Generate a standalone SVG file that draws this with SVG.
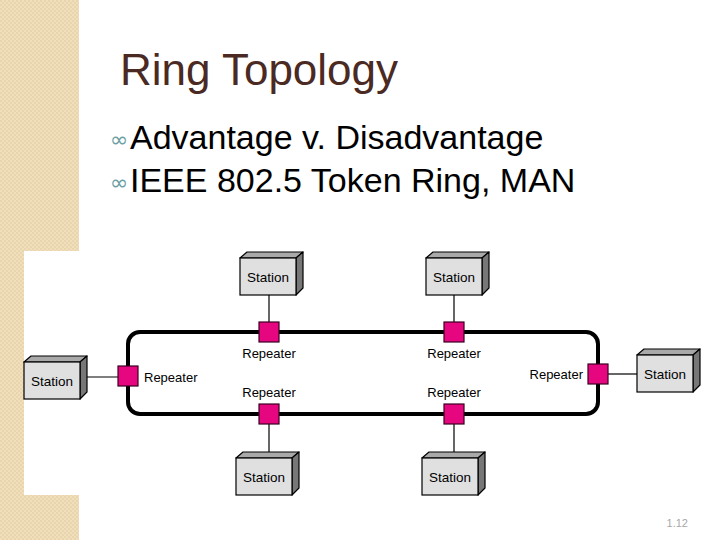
<svg xmlns="http://www.w3.org/2000/svg" width="720" height="540" viewBox="0 0 720 540">
<defs>
<pattern id="tex" width="4" height="4" patternUnits="userSpaceOnUse">
<rect width="4" height="4" fill="#f0dfba"/>
<rect width="2" height="2" fill="#e8d5ad"/>
<rect x="2" y="2" width="2" height="2" fill="#e8d5ad"/>
</pattern>
<g id="station">
<path d="M0,0 L7,-6 L63,-6 L56,0 Z" fill="#a9a9a9" stroke="#000" stroke-width="1.2" stroke-linejoin="round"/>
<path d="M56,0 L63,-6 L63,30 L56,37 Z" fill="#777" stroke="#000" stroke-width="1.2" stroke-linejoin="round"/>
<rect x="0" y="0" width="56" height="37" fill="#e0e0e0" stroke="#000" stroke-width="1.2"/>
<text x="28" y="23.5" class="st">Station</text>
</g>
<rect id="rep" x="-10" y="-10" width="20" height="20" fill="#e6067f" stroke="#3a0020" stroke-width="1.2"/>
</defs>
<style>
.title{font-family:"Liberation Sans",Arial,sans-serif;font-size:44px;fill:#4a2a22}
.bul{font-family:"Liberation Sans",Arial,sans-serif;font-size:34px;fill:#000}
.sym{font-family:"DejaVu Sans",sans-serif;font-size:22px;fill:#6a9ea3}
.st{font-family:"Liberation Sans",Arial,sans-serif;font-size:13.5px;fill:#000;text-anchor:middle}
.lbl{font-family:"Liberation Sans",Arial,sans-serif;font-size:13px;fill:#000}
.wire{stroke:#000;stroke-width:1.2;fill:none}
</style>
<rect width="720" height="540" fill="#fff"/>
<rect x="0" y="0" width="79" height="540" fill="url(#tex)"/>
<rect x="24" y="251" width="56" height="244" fill="#fff"/>
<text x="120" y="85" class="title">Ring Topology</text>
<text x="110" y="147" class="sym">∞</text>
<text x="130" y="149" class="bul">Advantage v. Disadvantage</text>
<text x="110" y="190" class="sym">∞</text>
<text x="130" y="192" class="bul">IEEE 802.5 Token Ring, MAN</text>
<g id="connectors">
<rect x="128" y="332" width="470" height="82" rx="12" ry="12" fill="none" stroke="#000" stroke-width="4"/>
<line class="wire" x1="269" y1="295" x2="269" y2="322"/>
<line class="wire" x1="454" y1="295" x2="454" y2="322"/>
<line class="wire" x1="80" y1="377" x2="118" y2="377"/>
<line class="wire" x1="608" y1="374" x2="637" y2="374"/>
<line class="wire" x1="269" y1="424" x2="269" y2="458"/>
<line class="wire" x1="454" y1="424" x2="454" y2="458"/>
</g>
<g id="station-top-left"><use href="#station" x="240" y="258"/></g>
<g id="station-top-right"><use href="#station" x="426" y="258"/></g>
<g id="station-left"><use href="#station" x="24" y="362"/></g>
<g id="station-right"><use href="#station" x="637" y="355"/></g>
<g id="station-bottom-left"><use href="#station" x="236" y="458"/></g>
<g id="station-bottom-right"><use href="#station" x="422" y="458"/></g>
<g id="repeater-top-left"><use href="#rep" x="269" y="332"/><text x="269" y="358" class="lbl" text-anchor="middle">Repeater</text></g>
<g id="repeater-top-right"><use href="#rep" x="454" y="332"/><text x="454" y="358" class="lbl" text-anchor="middle">Repeater</text></g>
<g id="repeater-left"><use href="#rep" x="128" y="376"/><text x="144" y="382" class="lbl">Repeater</text></g>
<g id="repeater-right"><use href="#rep" x="598" y="374"/><text x="583" y="379" class="lbl" text-anchor="end">Repeater</text></g>
<g id="repeater-bottom-left"><use href="#rep" x="269" y="414"/><text x="269" y="397" class="lbl" text-anchor="middle">Repeater</text></g>
<g id="repeater-bottom-right"><use href="#rep" x="454" y="414"/><text x="454" y="397" class="lbl" text-anchor="middle">Repeater</text></g>
<text x="688" y="527" font-family="Liberation Sans, Arial, sans-serif" font-size="11" fill="#a8a8a8" text-anchor="end">1.12</text>
</svg>
